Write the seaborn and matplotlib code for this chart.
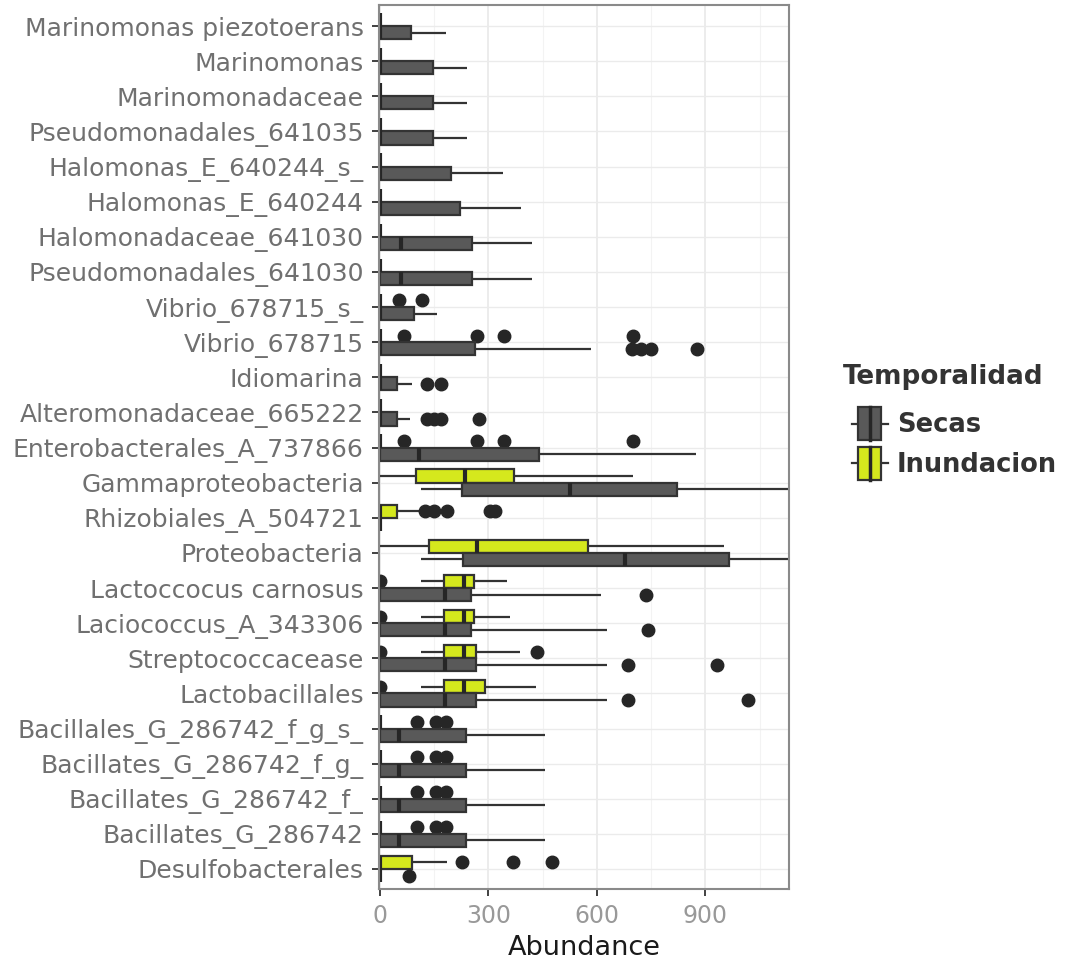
import numpy as np
import pandas as pd
import seaborn as sns
import matplotlib.pyplot as plt
from matplotlib.patches import Patch, Rectangle
from matplotlib.lines import Line2D
from matplotlib.legend_handler import HandlerBase
from matplotlib.ticker import FixedLocator

categories = ["Marinomonas piezotoerans", "Marinomonas", "Marinomonadaceae",
              "Pseudomonadales_641035", "Halomonas_E_640244_s_", "Halomonas_E_640244",
              "Halomonadaceae_641030", "Pseudomonadales_641030", "Vibrio_678715_s_",
              "Vibrio_678715", "Idiomarina", "Alteromonadaceae_665222",
              "Enterobacterales_A_737866", "Gammaproteobacteria", "Rhizobiales_A_504721",
              "Proteobacteria", "Lactoccocus carnosus", "Laciococcus_A_343306",
              "Streptococcacease", "Lactobacillales", "Bacillales_G_286742_f_g_s_",
              "Bacillates_G_286742_f_g_", "Bacillates_G_286742_f_", "Bacillates_G_286742",
              "Desulfobacterales"]

# abundance samples (Secas = dry season)
secas = [
    [0, 0, 0, 0, 0, 40, 87, 130, 182],
    [0, 0, 0, 0, 0, 70, 147, 190, 240],
    [0, 0, 0, 0, 0, 70, 147, 190, 240],
    [0, 0, 0, 0, 0, 70, 147, 190, 240],
    [0, 0, 0, 0, 0, 90, 196, 270, 341],
    [0, 0, 0, 0, 0, 110, 221, 300, 390],
    [0, 0, 0, 30, 58, 150, 256, 340, 422],
    [0, 0, 0, 30, 58, 150, 256, 340, 422],
    [0, 0, 0, 0, 0, 50, 95, 120, 157],
    [0, 0, 0, 0, 0, 0, 0, 0, 0, 0, 0, 60, 120, 180, 230, 263, 583, 697, 722, 749, 876],
    [0, 0, 0, 0, 0, 0, 0, 20, 35, 49, 88, 131, 168],
    [0, 0, 0, 0, 0, 0, 0, 0, 0, 0, 0, 10, 20, 30, 40, 49, 85, 131, 150, 168, 274],
    [0, 0, 0, 50, 109, 250, 440, 600, 874],
    [113, 170, 226, 380, 525, 680, 822, 1000, 1160],
    [0, 0, 0, 0, 0, 0, 0, 0, 0],
    [113, 170, 230, 450, 677, 820, 966, 1060, 1160],
    [0, 0, 0, 0, 60, 120, 180, 210, 235, 253, 400, 611, 735],
    [0, 0, 0, 0, 60, 120, 180, 210, 235, 253, 400, 627, 740],
    [0, 0, 0, 0, 60, 120, 180, 215, 240, 265, 627, 685, 933],
    [0, 0, 0, 0, 60, 120, 180, 215, 240, 265, 627, 685, 1017],
    [0, 0, 0, 25, 53, 150, 238, 340, 456],
    [0, 0, 0, 25, 53, 150, 238, 340, 456],
    [0, 0, 0, 25, 53, 150, 238, 340, 456],
    [0, 0, 0, 25, 53, 150, 238, 340, 456],
    [0, 0, 0, 0, 0, 0, 0, 0, 0, 81],
]

# Inundacion = flood season
inundacion = [
    [0] * 9, [0] * 9, [0] * 9, [0] * 9, [0] * 9, [0] * 9, [0] * 9, [0] * 9,
    [0] * 9 + [53, 117],
    [0] * 13 + [67, 269, 343, 700],
    [0] * 9,
    [0] * 9,
    [0] * 13 + [67, 269, 343, 700],
    [0, 50, 100, 170, 237, 300, 371, 500, 699],
    [0] * 13 + [8, 16, 24, 32, 40, 47, 108, 126, 150, 187, 306, 318],
    [0, 70, 135, 200, 269, 420, 576, 760, 951],
    [0, 113, 150, 177, 200, 220, 233, 245, 255, 261, 300, 330, 353],
    [0, 113, 150, 177, 200, 220, 233, 245, 255, 261, 300, 330, 359],
    [0, 113, 150, 177, 200, 220, 233, 245, 255, 265, 330, 389, 435],
    [0, 113, 150, 177, 200, 220, 233, 250, 270, 290, 350, 400, 433],
    [0] * 10 + [104, 155, 182],
    [0] * 10 + [104, 155, 182],
    [0] * 10 + [104, 155, 182],
    [0] * 10 + [104, 155, 182],
    [0] * 9 + [25, 50, 70, 89, 187, 228, 369, 475],
]

groups = ["Secas", "Inundacion"]
colors = {"Secas": "#595959", "Inundacion": "#d5e81d"}

rows = []
for cat, vals in zip(categories, secas):
    rows += [(cat, "Secas", v) for v in vals]
for cat, vals in zip(categories, inundacion):
    rows += [(cat, "Inundacion", v) for v in vals]
df = pd.DataFrame(rows, columns=["taxon", "Temporalidad", "Abundance"])

plt.rcParams["font.family"] = ["DejaVu Sans"]

fig = plt.figure(figsize=(10.7, 9.63), dpi=100)
ax = fig.add_axes([0.35421, 0.07684, 0.38318, 0.91796])

edge = "#333333"
sns.boxplot(data=df, x="Abundance", y="taxon", hue="Temporalidad", order=categories,
            hue_order=["Inundacion", "Secas"], palette=colors, saturation=1,
            width=0.75, gap=0, dodge=True, orient="h", linecolor=edge, linewidth=1.6,
            showcaps=False, fliersize=9,
            flierprops=dict(marker="o", markerfacecolor="#262626", markeredgecolor="#262626"),
            medianprops=dict(color="#262626", linewidth=3),
            legend=False, ax=ax)

ax.set_xlim(-2, 1131)
ax.set_ylim(24.57, -0.6)
ax.set_xticks([0, 300, 600, 900])
ax.xaxis.set_minor_locator(FixedLocator([150, 450, 750, 1050]))
ax.set_axisbelow(True)
ax.grid(which="major", axis="x", color="#ebebeb", lw=1.3)
ax.grid(which="minor", axis="x", color="#f3f3f3", lw=0.8)
ax.grid(which="major", axis="y", color="#ebebeb", lw=1.0)
ax.tick_params(axis="x", which="minor", length=0)
ax.tick_params(axis="x", which="major", length=5, width=1.3, color=edge,
               labelsize=17, labelcolor="#999999", pad=6)
ax.tick_params(axis="y", length=5, width=1.3, color=edge, labelsize=18,
               labelcolor="#707070", pad=6)
ax.set_ylabel("")
ax.set_xlabel("Abundance", fontsize=19.5, color="#1a1a1a", labelpad=5)
for s in ax.spines.values():
    s.set_color("#8a8a8a")
    s.set_linewidth(1.5)


class BoxKey(HandlerBase):
    def create_artists(self, legend, orig_handle, xdescent, ydescent, width, height,
                       fontsize, trans):
        fc = orig_handle.get_facecolor()
        x0, y0 = -xdescent, -ydescent
        cx = x0 + width / 2
        bw = width * 0.64
        whisk = Line2D([x0, x0 + width], [y0 + height / 2] * 2, color=edge, lw=1.6,
                       transform=trans)
        rect = Rectangle((cx - bw / 2, y0), bw, height, facecolor=fc, edgecolor=edge,
                         lw=1.6, transform=trans)
        med = Line2D([cx, cx], [y0, y0 + height], color="#262626", lw=2.5, transform=trans)
        return [whisk, rect, med]


fig.text(843 / 1070, 1 - 377 / 963, "Temporalidad", fontsize=18.9, fontweight="bold",
         color="#333333", ha="left", va="center")
handles = [Patch(facecolor=colors[g]) for g in groups]
leg = fig.legend(handles, groups, loc="upper left",
                 bbox_to_anchor=(852 / 1070, 1 - 407 / 963), frameon=False,
                 handler_map={Patch: BoxKey()}, prop={"weight": "bold", "size": 18.5},
                 handlelength=1.4, handleheight=1.6, labelspacing=0.27,
                 handletextpad=0.35, borderpad=0, borderaxespad=0)
for t in leg.get_texts():
    t.set_color("#333333")

fig.savefig("out.png", dpi=100)
